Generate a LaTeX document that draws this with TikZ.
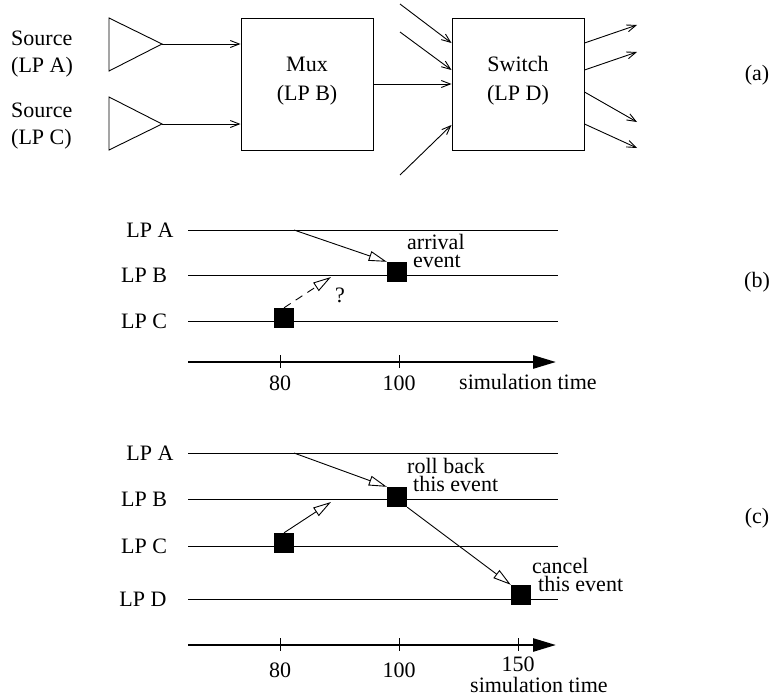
\documentclass[tikz,border=0pt]{standalone}
\usepackage{fontspec}
\setmainfont{Liberation Serif}
\usetikzlibrary{arrows.meta}
\begin{document}
\begin{tikzpicture}[x=1pt,y=-1pt,
  every node/.style={font=\fontsize{22}{26}\selectfont, inner sep=0pt},
  block/.style={draw, line width=1pt, minimum width=132pt, minimum height=132pt},
  src/.style={line width=0.9pt, line join=miter},
  wire/.style={line width=0.9pt, -{Straight Barb[length=9pt,width=7pt]}},
  lpline/.style={line width=0.9pt},
  evt/.style={fill=black, minimum size=20pt},
  msg/.style={line width=0.9pt, -{Triangle[open,length=18pt,width=10pt,line width=0.9pt]}},
  maybe/.style={msg, dash pattern=on 8pt off 6pt},
  timeaxis/.style={line width=2.6pt, -{Triangle[length=23pt,width=13pt]}},
  tickmark/.style={line width=1pt},
  lbl/.style={anchor=base},
  lblw/.style={anchor=base west},
  note/.style={anchor=base west, align=left, font=\fontsize{22}{18}\selectfont},
]
\useasboundingbox (0,0) rectangle (773,696);

% ---------------- (a) network model ----------------
\node[lblw] (srcAa) at (11,45) {Source};
\node[lblw] (srcAb) at (11,72) {(LP A)};
\node[lblw] (srcCa) at (11,117) {Source};
\node[lblw] (srcCb) at (11,144) {(LP C)};

\coordinate (tipA) at (162,44);
\coordinate (tipC) at (162,124);
\draw[src] (109,18) -- (109,71) -- (tipA) -- cycle;
\draw[src] (109,97) -- (109,150) -- (tipC) -- cycle;

\node[block] (mux) at (307,84) {};
\node[lbl] (muxa) at (307,71) {Mux};
\node[lbl] (muxb) at (307,100) {(LP B)};

\node[block] (sw) at (518,84) {};
\node[lbl] (swa) at (518,71) {Switch};
\node[lbl] (swb) at (518,100) {(LP D)};

\draw[wire] (tipA) -- (mux.west |- tipA);
\draw[wire] (tipC) -- (mux.west |- tipC);
\draw[wire] (mux.east) -- (sw.west);

\coordinate (in1) at (400,4);
\coordinate (in2) at (400,32);
\coordinate (in3) at (400,175);
\draw[wire] (in1) -- (sw.west |- 0,43);
\draw[wire] (in2) -- (sw.west |- 0,70);
\draw[wire] (in3) -- (sw.west |- 0,125);

\coordinate (out1) at (637,25);
\coordinate (out2) at (637,52);
\coordinate (out3) at (637,122);
\coordinate (out4) at (637,148);
\draw[wire] (sw.east |- 0,43) -- (out1);
\draw[wire] (sw.east |- 0,70) -- (out2);
\draw[wire] (sw.east |- 0,92) -- (out3);
\draw[wire] (sw.east |- 0,124) -- (out4);

\node[lbl] (tagA) at (757,80) {(a)};

% ---------------- (b) straggler question ----------------
\node[lbl] (bA) at (150,237) {LP A};
\node[lbl] (bB) at (144,282) {LP B};
\node[lbl] (bC) at (144,328) {LP C};
\draw[lpline] (188,230) -- (558,230);
\draw[lpline] (188,275) -- (558,275);
\draw[lpline] (188,321) -- (558,321);

\node[evt] (bevB) at (397,272) {};
\node[evt] (bevC) at (284,318) {};
\coordinate (bsend) at (294,230);
\coordinate (bq) at (331,277);
\draw[msg] (bsend) -- (bevB.north west);
\draw[maybe] (bevC.north) -- (bq);
\node[lbl] (qmark) at (340,302) {?};
% two-line note; its base anchor sits on the last line
\node[note] (barr) at (407,267) {arrival\\\hspace*{6pt}event};

\draw[timeaxis] (188,362) -- (556,362);
\draw[tickmark] (280,355) -- (280,368);
\draw[tickmark] (399,355) -- (399,368);
\node[lbl] (b80) at (280,390) {80};
\node[lbl] (b100) at (399,390) {100};
\node[lblw] (bsim) at (459,389) {simulation time};

\node[lbl] (tagB) at (757,287) {(b)};

% ---------------- (c) rollback and cancellation ----------------
\node[lbl] (cA) at (150,460) {LP A};
\node[lbl] (cB) at (144,506) {LP B};
\node[lbl] (cC) at (144,553) {LP C};
\node[lbl] (cD) at (143,606) {LP D};
\draw[lpline] (188,453) -- (558,453);
\draw[lpline] (188,499) -- (558,499);
\draw[lpline] (188,546) -- (558,546);
\draw[lpline] (188,599) -- (558,599);

\node[evt] (cevB) at (397,497) {};
\node[evt] (cevC) at (284,543) {};
\node[evt] (cevD) at (521,595) {};
\coordinate (csend) at (294,453);
\coordinate (cq) at (331,502);
\draw[msg] (csend) -- (cevB.north west);
\draw[msg] (cevC.north) -- (cq);
\draw[msg] (cevB.south east) -- (cevD.north west);

\node[note] (croll) at (407,491) {roll back\\\hspace*{6pt}this event};
\node[note] (ccan) at (532,591) {cancel\\\hspace*{6pt}this event};

\draw[timeaxis] (188,645) -- (556,645);
\draw[tickmark] (280,638) -- (280,651);
\draw[tickmark] (399,638) -- (399,651);
\draw[tickmark] (518,638) -- (518,651);
\node[lbl] (c80) at (280,677) {80};
\node[lbl] (c100) at (399,677) {100};
\node[lbl] (c150) at (518,671) {150};
\node[lblw] (csim) at (470,692) {simulation time};

\node[lbl] (tagC) at (757,523) {(c)};
\end{tikzpicture}
\end{document}
